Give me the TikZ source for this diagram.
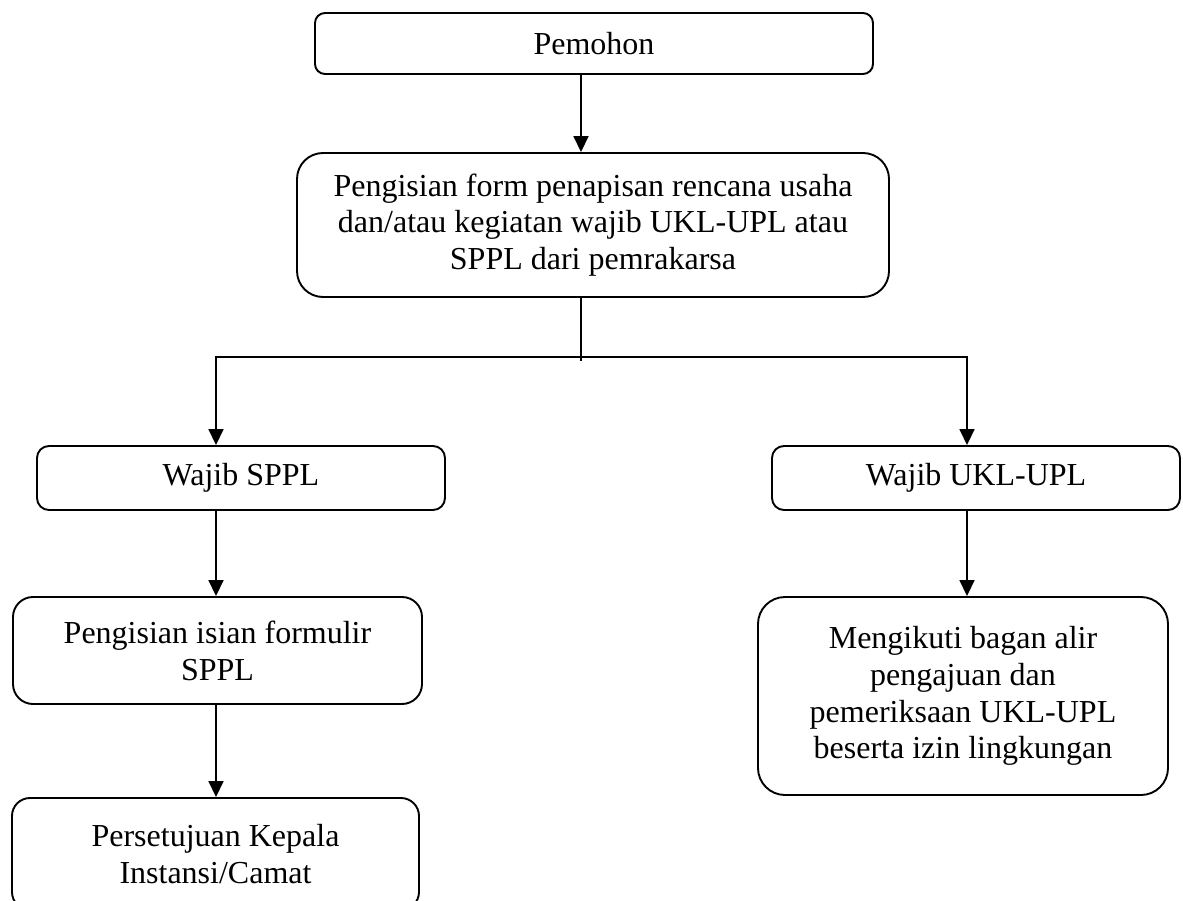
\documentclass[tikz,border=0pt]{standalone}
\usepackage{fontspec}
\setmainfont{Liberation Serif}
\usetikzlibrary{arrows.meta}
\begin{document}
\begin{tikzpicture}[x=1pt,y=-1pt,
  box/.style={draw, line width=1.9pt, rounded corners=#1, align=center, inner sep=0pt,
    font=\fontsize{32}{36.8}\selectfont},
  box/.default=10pt,
  conn/.style={line width=1.7pt},
  arr/.style={conn, -{Triangle[length=16pt,width=15pt]}}]
\clip (0,0) rectangle (1183,901);
\fill[white] (0,0) rectangle (1183,901);
% nodes
\node[box=10pt, minimum width=558pt, minimum height=61pt] (pem) at (594,43.5) {Pemohon};
\node[box=26pt, minimum width=592pt, minimum height=144pt] (form) at (593,225)
  {Pengisian form penapisan rencana usaha\\dan/atau kegiatan wajib UKL-UPL atau\\SPPL dari pemrakarsa};
\node[box=12pt, minimum width=408pt, minimum height=64pt] (sppl) at (241,478) {Wajib SPPL};
\node[box=12pt, minimum width=408pt, minimum height=64pt] (ukl) at (976,478) {Wajib UKL-UPL};
\node[box=20pt, minimum width=409pt, minimum height=107pt] (isian) at (217.5,650.5)
  {Pengisian isian formulir\\SPPL};
\node[box=18pt, minimum width=407pt, minimum height=112pt] (pers) at (215.5,854)
  {Persetujuan Kepala\\Instansi/Camat};
\node[box=27pt, minimum width=410pt, minimum height=198pt] (meng) at (963,696)
  {Mengikuti bagan alir\\pengajuan dan\\pemeriksaan UKL-UPL\\beserta izin lingkungan};
% junction coordinates
\coordinate (j) at (581,357);
\coordinate (jb) at (581,361);
\coordinate (jl) at (216,357);
\coordinate (jr) at (967,357);
% connectors
\draw[arr] (pem.south -| j) -- (form.north -| j);
\draw[conn] (form.south -| j) -- (jb);
\draw[arr] (j) -| (sppl.north -| jl);
\draw[arr] (j) -| (ukl.north -| jr);
\draw[arr] (sppl.south -| jl) -- (isian.north -| jl);
\draw[arr] (isian.south -| jl) -- (pers.north -| jl);
\draw[arr] (ukl.south -| jr) -- (meng.north -| jr);
\end{tikzpicture}
\end{document}
